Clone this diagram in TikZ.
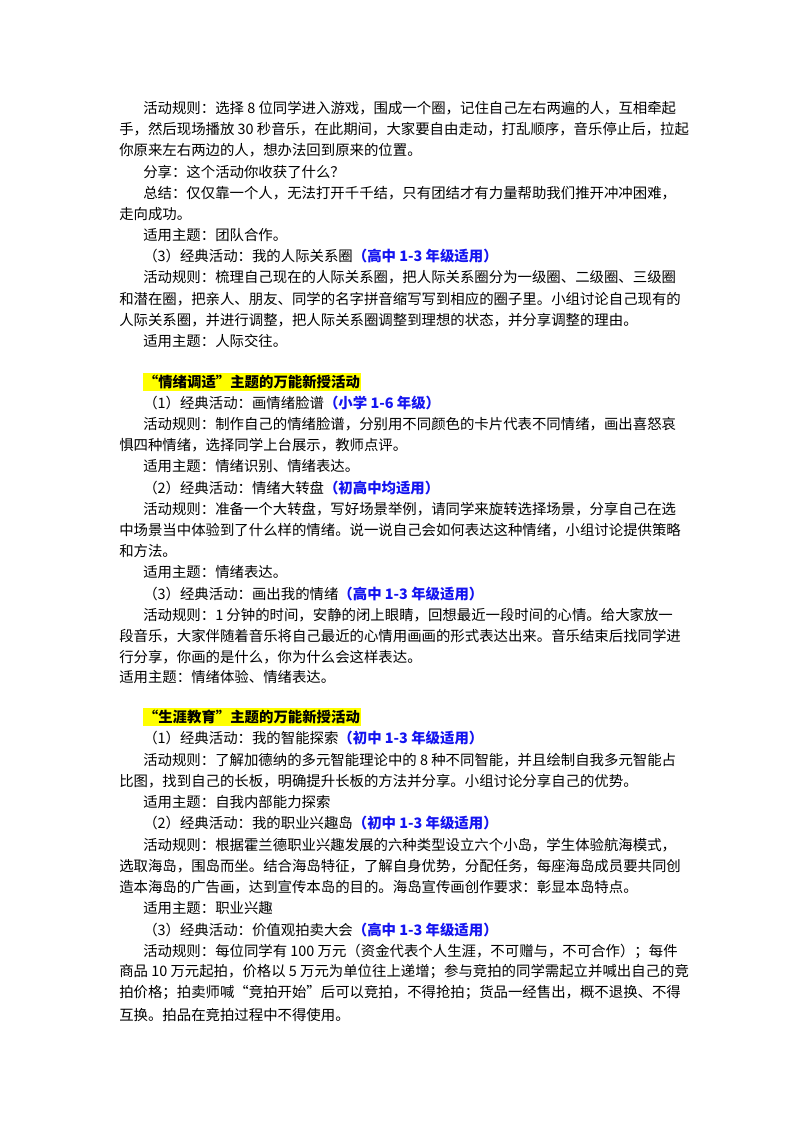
\documentclass[tikz,border=0pt]{standalone}
\usepackage{fontspec}
\setmainfont{Noto Sans CJK SC}
\definecolor{hlblue}{RGB}{20,20,240}
\definecolor{hlyellow}{RGB}{255,255,0}
\begin{document}
\begin{tikzpicture}[x=0.75pt,y=-0.75pt,
  ln/.style={anchor=west,inner sep=0pt,font=\fontsize{10.8}{12}\selectfont},
  hd/.style={anchor=west,inner xsep=0.5pt,inner ysep=1.5pt,fill=hlyellow,font=\fontsize{10.8}{12}\selectfont\bfseries}]
\newcommand{\bl}[1]{{\color{hlblue}\bfseries #1}}
\useasboundingbox[fill=white] (0,0) rectangle (800,1132);
\node[ln] (a1) at (143,108) {活动规则：选择 8 位同学进入游戏，围成一个圈，记住自己左右两遍的人，互相牵起};
\node[ln] (a2) at (119,129) {手，然后现场播放 30 秒音乐，在此期间，大家要自由走动，打乱顺序，音乐停止后，拉起};
\node[ln] (a3) at (119,150) {你原来左右两边的人，想办法回到原来的位置。};
\node[ln] (a4) at (143,172) {分享：这个活动你收获了什么？};
\node[ln] (a5) at (143,193) {总结：仅仅靠一个人，无法打开千千结，只有团结才有力量帮助我们推开冲冲困难，};
\node[ln] (a6) at (119,214) {走向成功。};
\node[ln] (a7) at (143,235) {适用主题：团队合作。};
\node[ln] (a8) at (143,256) {（3）经典活动：我的人际关系圈\bl{（高中 1-3 年级适用）}};
\node[ln] (a9) at (143,277) {活动规则：梳理自己现在的人际关系圈，把人际关系圈分为一级圈、二级圈、三级圈};
\node[ln] (a10) at (119,299) {和潜在圈，把亲人、朋友、同学的名字拼音缩写写到相应的圈子里。小组讨论自己现有的};
\node[ln] (a11) at (119,320) {人际关系圈，并进行调整，把人际关系圈调整到理想的状态，并分享调整的理由。};
\node[ln] (a12) at (143,341) {适用主题：人际交往。};
\node[hd] (h1) at (143,382) {“情绪调适”主题的万能新授活动};
\node[ln] (b1) at (143,403) {（1）经典活动：画情绪脸谱\bl{（小学 1-6 年级）}};
\node[ln] (b2) at (143,424) {活动规则：制作自己的情绪脸谱，分别用不同颜色的卡片代表不同情绪，画出喜怒哀};
\node[ln] (b3) at (119,445) {惧四种情绪，选择同学上台展示，教师点评。};
\node[ln] (b4) at (143,466) {适用主题：情绪识别、情绪表达。};
\node[ln] (b5) at (143,488) {（2）经典活动：情绪大转盘\bl{（初高中均适用）}};
\node[ln] (b6) at (143,509) {活动规则：准备一个大转盘，写好场景举例，请同学来旋转选择场景，分享自己在选};
\node[ln] (b7) at (119,530) {中场景当中体验到了什么样的情绪。说一说自己会如何表达这种情绪，小组讨论提供策略};
\node[ln] (b8) at (119,551) {和方法。};
\node[ln] (b9) at (143,572) {适用主题：情绪表达。};
\node[ln] (b10) at (143,594) {（3）经典活动：画出我的情绪\bl{（高中 1-3 年级适用）}};
\node[ln] (b11) at (143,615) {活动规则：1 分钟的时间，安静的闭上眼睛，回想最近一段时间的心情。给大家放一};
\node[ln] (b12) at (119,636) {段音乐，大家伴随着音乐将自己最近的心情用画画的形式表达出来。音乐结束后找同学进};
\node[ln] (b13) at (119,657) {行分享，你画的是什么，你为什么会这样表达。};
\node[ln] (b14) at (119,677) {适用主题：情绪体验、情绪表达。};
\node[hd] (h2) at (143,717) {“生涯教育”主题的万能新授活动};
\node[ln] (c1) at (143,738) {（1）经典活动：我的智能探索\bl{（初中 1-3 年级适用）}};
\node[ln] (c2) at (143,760) {活动规则：了解加德纳的多元智能理论中的 8 种不同智能，并且绘制自我多元智能占};
\node[ln] (c3) at (119,781) {比图，找到自己的长板，明确提升长板的方法并分享。小组讨论分享自己的优势。};
\node[ln] (c4) at (143,802) {适用主题：自我内部能力探索};
\node[ln] (c5) at (143,823) {（2）经典活动：我的职业兴趣岛\bl{（初中 1-3 年级适用）}};
\node[ln] (c6) at (143,845) {活动规则：根据霍兰德职业兴趣发展的六种类型设立六个小岛，学生体验航海模式，};
\node[ln] (c7) at (119,866) {选取海岛，围岛而坐。结合海岛特征，了解自身优势，分配任务，每座海岛成员要共同创};
\node[ln] (c8) at (119,887) {造本海岛的广告画，达到宣传本岛的目的。海岛宣传画创作要求：彰显本岛特点。};
\node[ln] (c9) at (143,908) {适用主题：职业兴趣};
\node[ln] (c10) at (143,930) {（3）经典活动：价值观拍卖大会\bl{（高中 1-3 年级适用）}};
\node[ln] (c11) at (143,951) {活动规则：每位同学有 100 万元（资金代表个人生涯，不可赠与，不可合作）；每件};
\node[ln] (c12) at (119,972) {商品 10 万元起拍，价格以 5 万元为单位往上递增；参与竞拍的同学需起立并喊出自己的竞};
\node[ln] (c13) at (119,993) {拍价格；拍卖师喊“竞拍开始”后可以竞拍，不得抢拍；货品一经售出，概不退换、不得};
\node[ln] (c14) at (119,1015) {互换。拍品在竞拍过程中不得使用。};
\end{tikzpicture}
\end{document}
